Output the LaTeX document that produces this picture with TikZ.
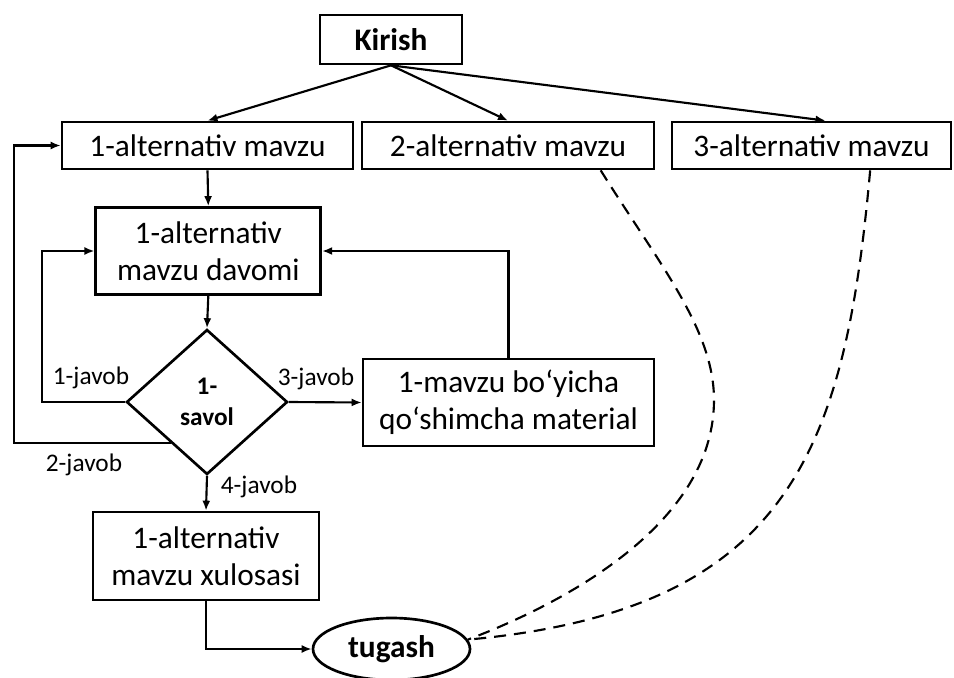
\documentclass[tikz,border=0pt]{standalone}
\usepackage{fontspec}
\setmainfont{Carlito}
\usetikzlibrary{shapes.geometric,arrows.meta}

\begin{document}
\begin{tikzpicture}[x=0.75pt,y=0.75pt,yscale=-1,xscale=1,
  box/.style={draw,line width=2pt,rectangle,inner sep=0pt,align=center,font=\fontsize{23.5}{28}\selectfont},
  arr/.style={line width=1.6pt,-{Latex[length=7.5pt,width=6pt]}},
  dashline/.style={line width=1.6pt,dash pattern=on 9pt off 6pt},
  lbl/.style={inner sep=0.75pt,font=\fontsize{19}{23}\selectfont}]
\useasboundingbox (0,0) rectangle (954,678);

%Shape: Rectangle [kirish]
\node [box,minimum width=106.5pt,minimum height=36.75pt,font=\fontsize{23.5}{28}\selectfont\bfseries] (kirish) at (391,39.5) {Kirish};
%Shape: Rectangle [alternativ mavzular]
\node [box,minimum width=218.25pt,minimum height=35.25pt] (alt1) at (207.5,145.5) {1-alternativ mavzu};
\node [box,minimum width=219pt,minimum height=35.25pt] (alt2) at (508,145.5) {2-alternativ mavzu};
\node [box,minimum width=209.25pt,minimum height=35.25pt] (alt3) at (811.5,145.5) {3-alternativ mavzu};
%Shape: Rectangle [davomi]
\node [box,minimum width=168.75pt,minimum height=65.25pt] (davomi) at (208.3,251) {1-alternativ\\mavzu davomi};
%Shape: Diamond [savol]
\node [draw,diamond,line width=2pt,inner sep=0pt,minimum width=120.75pt,minimum height=108.75pt,align=center,font=\fontsize{19}{23}\selectfont\bfseries] (savol) at (207,402) {1-\\savol};
%Shape: Rectangle [qo'shimcha]
\node [box,minimum width=218.25pt,minimum height=65.25pt] (qosh) at (508.5,402.5) {1-mavzu bo‘yicha\\qo‘shimcha material};
%Shape: Rectangle [xulosa]
\node [box,minimum width=169.5pt,minimum height=66pt] (xulosa) at (206,556) {1-alternativ\\mavzu xulosasi};
%Shape: Ellipse [tugash]
\node [draw,ellipse,line width=2pt,inner sep=0pt,minimum width=117.75pt,minimum height=46.5pt,font=\fontsize{23.5}{28}\selectfont\bfseries] (tugash) at (391.5,649) {tugash};

%Straight Lines
\draw [arr] (kirish.south) -- (alt1.north);
\draw [arr] (kirish.south) -- (alt2.north);
\draw [arr] (kirish.south) -- ([xshift=10.5pt]alt3.north);
\draw [arr] (alt1.south) -- (davomi.north);
\draw [arr] (davomi.south) -- (savol.north);
\draw [arr] (savol.west) -- ++(-83,0) |- (davomi.west);
\draw [arr] (savol.229) -- ++(-157,0) |- (alt1.west);
\draw [arr] (savol.east) -- (qosh.west);
\draw [arr] (qosh.north) |- (davomi.east);
\draw [arr] (savol.south) -- (xulosa.north);
\draw [arr] (xulosa.south) |- (tugash.west);

%Curve Lines
\coordinate (d2) at ([xshift=69.5pt]alt2.south);
\coordinate (d3) at ([xshift=44pt]alt3.south);
\draw [dashline] (d2) .. controls (660,265) and (714,330) .. (714,400) .. controls (714,515) and (585,595) .. (tugash.7);
\draw [dashline] (d3) .. controls (845,450) and (790,610) .. (tugash.7);

% Text Node
\node [lbl] (j1) at (91,378) {1-javob};
% Text Node
\node [lbl] (j2) at (84,465) {2-javob};
% Text Node
\node [lbl] (j3) at (316,379) {3-javob};
% Text Node
\node [lbl] (j4) at (259,487) {4-javob};

\end{tikzpicture}
\end{document}
